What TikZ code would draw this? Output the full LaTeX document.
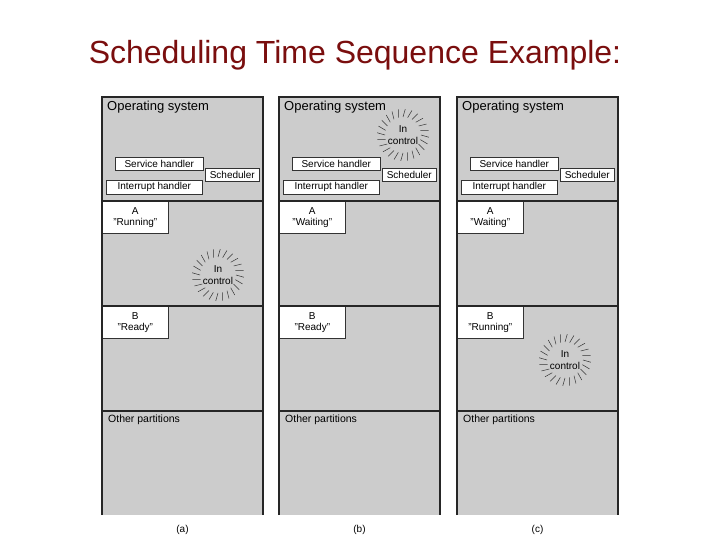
\documentclass[tikz,border=0pt]{standalone}
\usepackage{fontspec}
\setmainfont{Liberation Sans}
\usetikzlibrary{positioning}

\definecolor{titlered}{RGB}{122,14,14}
\definecolor{memgray}{RGB}{204,204,204}
\tikzset{
  wall/.style={line width=1.8pt, draw=black!85},
  inbox/.style={draw=black!80, fill=white, line width=0.6pt, inner sep=0pt,
    anchor=north west, font=\fontsize{10}{11}\selectfont},
  statbox/.style={inbox, align=center, minimum width=66pt, minimum height=32pt},
  burst/.style={align=center, inner sep=0pt, font=\fontsize{10}{11.5}\selectfont},
  ray/.style={line width=0.5pt, draw=black!80},
  plain/.style={anchor=west, inner sep=0pt, font=\fontsize{10.5}{12}\selectfont},
}

\begin{document}
\begin{tikzpicture}[x=1pt, y=-1pt]
  \useasboundingbox (0,0) rectangle (720,540);

  \node[font=\fontsize{32}{36}\selectfont, text=titlered] (title) at (355,55)
    {Scheduling Time Sequence Example:};

  % one memory column for each moment (a), (b), (c)
  \foreach \x/\lab/\sa/\sb/\cx/\cy in {102/a/Running/Ready/116/275,
      279/b/Waiting/Ready/124/135, 457/c/Waiting/Running/108/360}{
    \fill[memgray] (\x,97) rectangle (\x+161,515);

    \node[plain, font=\fontsize{13}{15}\selectfont] (os-\lab) at (\x+5,107) {Operating system};
    \node[inbox, minimum width=88pt, minimum height=13pt] (srv-\lab) at (\x+13,157) {Service handler};
    \node[inbox, minimum width=54pt, minimum height=13pt] (sch-\lab) at (\x+103,168) {Scheduler};
    \node[inbox, minimum width=96pt, minimum height=14pt] (int-\lab) at (\x+4,180) {Interrupt handler};

    \node[statbox] (pa-\lab) at (\x,201) {A\\"\sa"};
    \node[statbox] (pb-\lab) at (\x,306) {B\\"\sb"};
    \node[plain] (oth-\lab) at (\x+6,420) {Other partitions};

    \draw[wall] (\x,515) |- (\x+161,97) -- (\x+161,515);
    \draw[wall] (\x,201) -- (\x+161,201);
    \draw[wall] (\x,306) -- (\x+161,306);
    \draw[wall] (\x,411) -- (\x+161,411);

    % who is in control
    \node[burst] (ctl-\lab) at (\x+\cx,\cy) {In\\control};
    \foreach \a in {0,15,...,345}
      \draw[ray, shift={(ctl-\lab.center)}] (\a:18) -- (\a+5:26);

    \node[font=\fontsize{10}{12}\selectfont] (cap-\lab) at (\x+80.5,530) {(\lab)};
  }
\end{tikzpicture}
\end{document}
